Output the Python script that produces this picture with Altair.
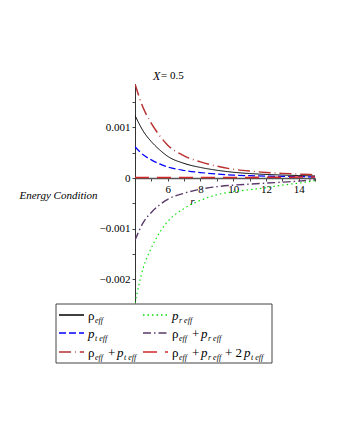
import altair as alt
import pandas as pd

# ---- data (values in units of 1e-3) ----
r_vals = [4, 4.5, 5, 5.5, 6, 7, 8, 9, 10, 11, 12, 13, 14, 15]
rho_eff = [1.24, 0.93, 0.72, 0.56, 0.43, 0.29, 0.21, 0.155, 0.115, 0.09, 0.072, 0.06, 0.05, 0.042]
pr_eff = [-2.47, -1.78, -1.38, -1.08, -0.86, -0.60, -0.44, -0.33, -0.27, -0.23, -0.19, -0.14, -0.10, -0.05]
pt_eff = [0.62, 0.46, 0.36, 0.28, 0.22, 0.15, 0.11, 0.08, 0.06, 0.048, 0.04, 0.033, 0.028, 0.024]
rho_pr = [-1.23, -0.88, -0.68, -0.53, -0.42, -0.30, -0.22, -0.17, -0.14, -0.12, -0.10, -0.08, -0.06, -0.03]
rho_pt = [1.86, 1.39, 1.08, 0.84, 0.65, 0.44, 0.32, 0.235, 0.175, 0.138, 0.112, 0.093, 0.078, 0.066]
rho_pr_2pt = [0.01, 0.01, 0.01, 0.01, 0.01, 0.01, 0.01, 0.01, 0.012, 0.012, 0.015, 0.015, 0.02, 0.02]

series_names = ["rho", "pr", "pt", "rho_pr", "rho_pt", "rho_pr_2pt"]
series_vals = [rho_eff, pr_eff, pt_eff, rho_pr, rho_pt, rho_pr_2pt]
colors = ["#000000", "#00e000", "#0000ff", "#5a3a6a", "#b83030", "#d02828"]
dashes = [[1, 0], [1.5, 3], [7, 3], [8, 3, 1.5, 3], [12, 4, 0.8, 4], [14, 8]]
widths = [1, 1.6, 1.1, 1.1, 1.1, 1.1]

rows = []
for name, vals in zip(series_names, series_vals):
    for rv, v in zip(r_vals, vals):
        rows.append({"r": rv, "v": v / 1000.0, "s": name})
df = pd.DataFrame(rows)

W, H = 180, 219
ymin, ymax = -0.00247, 0.00186
FONT = "Liberation Serif"

lines = alt.Chart(df).mark_line(clip=True, interpolate="monotone").encode(
    x=alt.X("r:Q", scale=alt.Scale(domain=[4, 15], nice=False, zero=False),
            axis=alt.Axis(values=list(range(4, 16)), offset=-125, grid=False,
                          labelExpr="datum.value % 2 == 0 && datum.value > 4 ? datum.label : ''",
                          tickSize=3, tickColor="#444", domainColor="#555", domainWidth=1.5,
                          labelFont=FONT, labelFontSize=11, labelColor="#000", labelPadding=2,
                          title="r", titleFont=FONT, titleFontStyle="italic", titleFontWeight="normal",
                          titleFontSize=11, titleX=57, titleY=23, titleBaseline="middle",
                          titleAlign="center")),
    y=alt.Y("v:Q", scale=alt.Scale(domain=[ymin, ymax], nice=False, zero=False),
            axis=alt.Axis(values=[-0.002, -0.0015, -0.001, -0.0005, 0, 0.0005, 0.001, 0.0015],
                          format="~g", grid=False, tickSize=3, tickColor="#444", domainColor="#333",
                          labelExpr="abs(datum.value*1000 - round(datum.value*1000)) < 0.01 ? datum.label : ''",
                          labelFont=FONT, labelFontSize=11, labelColor="#000", labelPadding=2,
                          title="Energy Condition", titleFont=FONT, titleFontStyle="italic",
                          titleFontWeight="normal", titleFontSize=11, titleAngle=0,
                          titleX=-116, titleY=111, titleAlign="left", titleBaseline="middle")),
    color=alt.Color("s:N", scale=alt.Scale(domain=series_names, range=colors), legend=None),
    strokeDash=alt.StrokeDash("s:N", scale=alt.Scale(domain=series_names, range=dashes), legend=None),
    strokeWidth=alt.StrokeWidth("s:N", scale=alt.Scale(domain=series_names, range=widths), legend=None),
    detail="s:N",
)

one = alt.Data(values=[{}])

title_x = alt.Chart(one).mark_text(font=FONT, fontSize=12, fontStyle="italic", align="left",
                                   baseline="middle").encode(
    x=alt.value(18), y=alt.value(-8), text=alt.value("X"))
title_rest = alt.Chart(one).mark_text(font=FONT, fontSize=11, align="left",
                                      baseline="middle").encode(
    x=alt.value(26), y=alt.value(-8), text=alt.value("= 0.5"))

# legend box
box = alt.Chart(one).mark_rect(fill="white", stroke="#444", strokeWidth=1).encode(
    x=alt.value(-79), x2=alt.value(137), y=alt.value(220), y2=alt.value(279))

row_y = [231, 249, 268]
col_x0 = [-76, 8]
sample_len = 25
label_off = 29
entries = [
    (0, 0, 0, [(0, "ρ", "N"), (7, "eff", "S")]),
    (1, 0, 1, [(0, "p", "I"), (7, "r eff", "S")]),
    (0, 1, 2, [(0, "p", "I"), (7, "t eff", "S")]),
    (1, 1, 3, [(0, "ρ", "N"), (7, "eff", "S"), (20, "+", "N"), (29, "p", "I"), (36, "r eff", "S")]),
    (0, 2, 4, [(0, "ρ", "N"), (7, "eff", "S"), (20, "+", "N"), (29, "p", "I"), (36, "t eff", "S")]),
    (1, 2, 5, [(0, "ρ", "N"), (7, "eff", "S"), (20, "+", "N"), (29, "p", "I"), (36, "r eff", "S"),
               (53, "+ 2", "N"), (72, "p", "I"), (79, "t eff", "S")]),
]

samples = []
pieces = []
for col, row, si, parts in entries:
    x0 = col_x0[col]
    y0 = row_y[row]
    samples.append(
        alt.Chart(one).mark_rule(color=colors[si], strokeDash=dashes[si],
                                 strokeWidth=max(widths[si], 1.3)).encode(
            x=alt.value(x0), x2=alt.value(x0 + sample_len), y=alt.value(y0)))
    for dx, txt, kind in parts:
        pieces.append({"px": x0 + label_off + dx,
                       "py": y0 + (6 if kind == "S" else 1),
                       "t": txt, "k": kind})
pdf = pd.DataFrame(pieces)

def text_layer(kind, size, style):
    return alt.Chart(pdf).transform_filter(alt.datum.k == kind).mark_text(
        font=FONT, fontSize=size, fontStyle=style, align="left", baseline="middle").encode(
        x=alt.X("px:Q", scale=None), y=alt.Y("py:Q", scale=None), text="t:N")

legend_texts = [text_layer("N", 13, "normal"), text_layer("I", 13, "italic"),
                text_layer("S", 8, "italic")]

chart = alt.layer(lines, title_x, title_rest, box, *samples, *legend_texts).properties(
    width=W, height=H,
    autosize=alt.AutoSizeParams(type="none"),
    padding={"left": 127, "top": 76, "right": 17, "bottom": 70},
).configure_view(stroke=None, strokeWidth=0)

chart.save("out.html", embed_options={"renderer": "svg", "actions": False})
